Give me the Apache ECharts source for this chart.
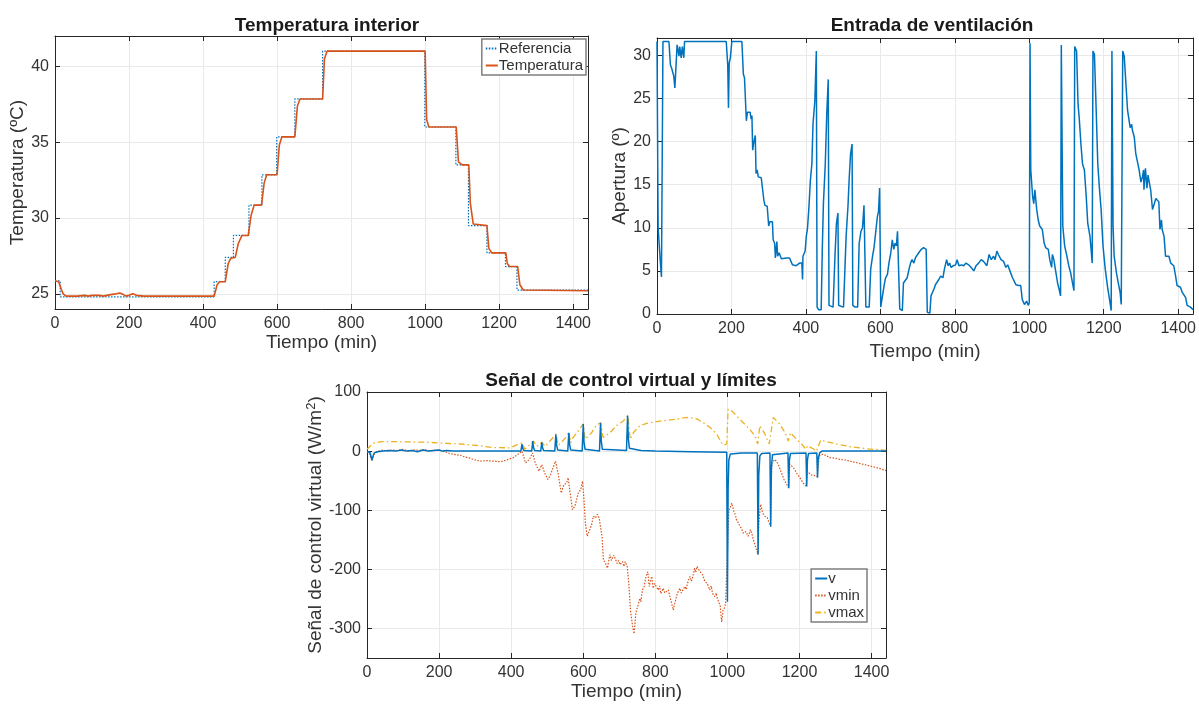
<!DOCTYPE html>
<html lang="es">
<head>
<meta charset="utf-8" />
<title>Temperatura, ventilación y señal de control</title>
<style>
  html, body { margin: 0; padding: 0; background: #fff; }
  #main { width: 1199px; height: 705px; }
</style>
</head>
<body>
<div id="main"></div>
<script src="https://cdn.jsdelivr.net/npm/echarts@6.0.0/dist/echarts.min.js"></script>
<script>
// --- Temperatura interior ---
var refTime = [0, 14, 430, 460, 482, 524, 559, 599, 648, 723, 999, 1083, 1117, 1167, 1217, 1248, 1440];
var refTemp = [25.85, 24.8, 25.8, 27.4, 28.85, 30.85, 32.85, 35.35, 37.85, 41.0, 36.0, 33.5, 29.5, 27.7, 26.8, 25.25, 25.25];

var tempTime = [0, 10, 14, 17, 22, 30, 60, 80, 90, 100, 120, 130, 150, 165, 175, 185, 192, 200, 210, 220, 240, 430, 438, 445, 460, 468, 475, 487, 495, 505, 522, 530, 538, 558, 565, 572, 600, 606, 613, 648, 655, 662, 723, 728, 735, 1000, 1004, 1010, 1084, 1090, 1100, 1118, 1122, 1130, 1135, 1167, 1172, 1180, 1218, 1222, 1228, 1250, 1256, 1265, 1440];
var tempValue = [25.85, 25.8, 25.75, 25.3, 25.0, 24.85, 24.85, 24.9, 24.85, 24.9, 24.9, 24.85, 24.95, 25.0, 25.05, 24.95, 24.85, 24.9, 25.0, 24.9, 24.85, 24.85, 25.6, 25.8, 25.8, 27.0, 27.35, 27.4, 28.3, 28.85, 28.85, 30.2, 30.85, 30.85, 32.3, 32.85, 32.85, 34.8, 35.35, 35.35, 37.4, 37.85, 37.85, 40.5, 41.0, 41.0, 36.5, 36.0, 36.0, 33.7, 33.5, 33.5, 31.0, 29.6, 29.5, 29.5, 28.0, 27.7, 27.7, 27.0, 26.8, 26.8, 25.6, 25.25, 25.2];

// --- Entrada de ventilación ---
var ventTime = [0, 1, 3, 9, 12, 14, 16, 32, 36, 40, 45, 48, 52, 54, 59, 61, 65, 68, 72, 74, 186, 190, 192, 194, 197, 201, 228, 232, 235, 238, 240, 243, 247, 250, 253, 255, 257, 260, 264, 266, 269, 272, 276, 280, 285, 287, 290, 296, 300, 303, 310, 312, 316, 318, 322, 324, 328, 334, 348, 356, 360, 364, 374, 383, 389, 391, 392, 398, 401, 404, 408, 412, 416, 419, 424, 428, 430, 434, 441, 444, 447, 452, 456, 460, 462, 467, 473, 478, 482, 486, 488, 494, 501, 508, 513, 516, 520, 524, 526, 532, 539, 543, 548, 552, 556, 559, 561, 566, 570, 574, 579, 583, 588, 592, 595, 598, 601, 605, 610, 614, 619, 623, 628, 632, 636, 639, 643, 646, 648, 652, 659, 662, 667, 672, 676, 681, 685, 690, 694, 703, 710, 716, 723, 726, 733, 736, 740, 744, 748, 753, 757, 762, 768, 772, 775, 778, 782, 786, 790, 796, 802, 806, 811, 818, 824, 830, 837, 844, 851, 857, 864, 871, 877, 886, 892, 898, 904, 908, 913, 917, 924, 931, 937, 942, 948, 955, 960, 964, 971, 977, 981, 987, 993, 997, 1000, 1002, 1004, 1009, 1012, 1015, 1020, 1024, 1028, 1035, 1040, 1044, 1051, 1055, 1060, 1062, 1066, 1070, 1076, 1080, 1084, 1086, 1090, 1095, 1101, 1106, 1111, 1116, 1120, 1122, 1127, 1131, 1134, 1139, 1143, 1148, 1153, 1157, 1163, 1166, 1169, 1171, 1175, 1180, 1184, 1188, 1193, 1198, 1204, 1211, 1217, 1220, 1222, 1225, 1228, 1234, 1239, 1244, 1247, 1251, 1255, 1260, 1264, 1268, 1271, 1275, 1277, 1282, 1286, 1291, 1295, 1300, 1304, 1307, 1308, 1312, 1316, 1319, 1323, 1326, 1331, 1335, 1340, 1344, 1348, 1351, 1355, 1357, 1362, 1366, 1375, 1380, 1388, 1393, 1397, 1406, 1411, 1415, 1420, 1424, 1433, 1440];
var ventValue = [31.6, 31.6, 10, 6, 4.3, 4.4, 31.6, 31.6, 28.9, 28.4, 27.6, 26.2, 26.0, 31.2, 29.9, 31.0, 29.7, 31.0, 29.7, 31.6, 31.6, 28.9, 23.9, 29.1, 29.7, 31.6, 31.6, 27.8, 27.4, 27.6, 22.4, 23.4, 23.2, 23.4, 22.6, 23.0, 19.0, 19.9, 20.7, 16.3, 16.7, 15.9, 16.1, 15.8, 15.9, 13.2, 12.6, 12.5, 10.2, 10.7, 10.7, 8.6, 8.2, 6.5, 8.4, 6.7, 7.1, 6.4, 6.5, 6.5, 6.3, 5.7, 5.6, 5.9, 5.9, 4.0, 6.7, 7.3, 9.0, 9.8, 12.3, 15.5, 17.4, 22.0, 24.7, 30.5, 0.8, 0.5, 0.5, 7.5, 12.8, 17.4, 23.2, 27.2, 1.0, 0.8, 0.8, 6.7, 10.5, 11.7, 1.0, 0.9, 0.8, 9.0, 12.5, 15.5, 18.6, 19.7, 1.0, 0.8, 0.8, 8.2, 9.6, 10.0, 12.6, 12.6, 0.8, 0.7, 0.8, 5.2, 6.7, 7.7, 7.9, 11.3, 11.9, 14.6, 0.8, 0.6, 3.3, 4.2, 4.6, 5.9, 7.1, 8.6, 7.5, 8.2, 7.9, 9.6, 9.8, 0.6, 0.4, 3.6, 3.6, 4.2, 5.0, 5.9, 6.3, 5.9, 6.5, 7.1, 7.5, 7.7, 7.5, 0.2, 0.1, 2.1, 2.3, 2.9, 3.4, 3.6, 4.0, 4.4, 4.2, 5.2, 5.4, 6.3, 5.6, 5.9, 5.4, 5.6, 5.7, 6.3, 5.6, 5.7, 5.6, 5.9, 5.7, 5.4, 5.0, 5.6, 5.9, 6.3, 6.1, 5.6, 6.9, 6.3, 6.7, 6.3, 7.3, 6.9, 6.3, 6.1, 5.4, 5.7, 5.0, 4.2, 4.2, 3.4, 3.3, 3.3, 1.7, 1.1, 1.5, 1.0, 1.3, 31.4, 16.7, 13.6, 12.8, 14.4, 12.1, 10.9, 10.2, 9.8, 8.2, 7.7, 7.5, 6.3, 5.4, 6.9, 6.3, 5.2, 3.6, 2.9, 2.1, 31.2, 10.2, 7.9, 6.7, 5.6, 4.8, 3.6, 2.7, 31.0, 30.5, 24.3, 22.8, 19.5, 17.4, 16.7, 13.6, 10.5, 9.0, 7.5, 5.9, 30.5, 30.1, 23.2, 17.4, 14.8, 12.1, 7.9, 5.2, 2.9, 1.3, 0.4, 30.5, 10.2, 6.7, 4.8, 3.6, 2.5, 1.1, 30.5, 29.9, 29.7, 23.6, 23.4, 21.6, 22.0, 21.3, 20.5, 18.6, 18.4, 16.7, 15.3, 15.9, 16.7, 14.4, 16.9, 14.6, 16.1, 15.1, 14.4, 12.1, 11.9, 13.4, 13.6, 13.0, 9.8, 10.9, 9.8, 9.0, 6.7, 6.7, 5.9, 5.6, 4.4, 3.3, 3.1, 2.5, 2.3, 1.9, 1.0, 0.8, 0.5];

// --- Señal de control virtual y límites ---
var vTime = [0, 8, 11, 14, 17, 20, 30, 45, 60, 80, 95, 110, 125, 140, 155, 170, 185, 200, 210, 220, 240, 427, 430, 432, 435, 440, 457, 460, 462, 465, 470, 482, 485, 487, 490, 495, 521, 524, 526, 529, 534, 557, 560, 562, 565, 570, 597, 600, 602, 605, 610, 645, 648, 650, 653, 658, 720, 723, 725, 728, 733, 760, 800, 900, 998, 999, 1000, 1002, 1004, 1008, 1040, 1083, 1085, 1087, 1090, 1095, 1118, 1120, 1122, 1125, 1130, 1168, 1170, 1172, 1175, 1218, 1220, 1222, 1225, 1248, 1250, 1252, 1256, 1262, 1440];
var vValue = [-1, -2, -5, -15, -8, -3, -1, 0, 1, 0, 2, 0, 1, -1, 2, 0, 1, 2, 0, 1, 0, 0, 12, 5, 1, 0, 0, 17, 6, 1, 0, 0, 15, 6, 1, 0, 0, 28, 10, 2, 0, 0, 31, 12, 2, 0, 0, 46, 16, 3, 0, 0, 48, 17, 3, 0, 1, 60, 22, 5, 2, 1, 0, -1, -2, -3, -255, -60, -15, -5, -3, -3, -175, -40, -8, -4, -3, -128, -30, -6, -3, -3, -63, -15, -4, -3, -60, -15, -4, -3, -45, -12, -3, 0, 0];

var vminTime = [0, 6, 10, 14, 18, 22, 30, 45, 55, 70, 85, 100, 115, 130, 145, 160, 175, 190, 203, 215, 230, 245, 259, 272, 286, 300, 314, 332, 351, 370, 388, 406, 420, 430, 440, 451, 459, 467, 477, 485, 493, 502, 509, 523, 530, 539, 546, 554, 558, 563, 570, 577, 586, 593, 598, 602, 606, 611, 618, 623, 628, 634, 639, 644, 648, 652, 656, 662, 667, 674, 678, 681, 685, 688, 694, 698, 702, 709, 713, 716, 722, 727, 731, 737, 741, 746, 751, 757, 760, 764, 769, 774, 779, 783, 787, 790, 794, 798, 802, 808, 812, 815, 822, 826, 829, 836, 840, 843, 850, 854, 858, 861, 868, 872, 876, 882, 886, 889, 896, 900, 903, 909, 912, 916, 920, 924, 931, 934, 938, 944, 948, 951, 955, 959, 965, 969, 972, 977, 980, 984, 988, 992, 995, 1000, 1004, 1008, 1012, 1018, 1022, 1025, 1030, 1035, 1040, 1044, 1051, 1058, 1064, 1068, 1072, 1079, 1085, 1087, 1092, 1098, 1104, 1111, 1116, 1120, 1123, 1132, 1141, 1148, 1157, 1164, 1170, 1173, 1183, 1192, 1201, 1210, 1218, 1222, 1231, 1240, 1249, 1255, 1266, 1284, 1300, 1312, 1326, 1340, 1355, 1368, 1382, 1395, 1420, 1440];
var vminValue = [-1, -3, -11, -17, -8, -3, 0, 2, 0, 2, 1, 3, 0, 2, 1, 3, 0, 2, 1, -1, -4, -6, -7, -10, -12, -15, -17, -16, -17, -18, -15, -11, -5, 0, -20, -14, -3, -20, -34, -23, -37, -48, -40, -17, -37, -71, -57, -54, -45, -68, -99, -93, -71, -65, -51, -82, -122, -144, -133, -125, -110, -113, -107, -113, -113, -144, -184, -190, -198, -175, -185, -181, -176, -173, -190, -185, -192, -187, -195, -187, -195, -229, -269, -297, -309, -274, -263, -249, -255, -235, -229, -212, -204, -229, -218, -212, -232, -224, -221, -235, -228, -241, -232, -240, -241, -235, -245, -252, -269, -257, -248, -241, -232, -240, -238, -229, -234, -224, -212, -220, -215, -198, -205, -195, -200, -204, -209, -215, -221, -224, -230, -235, -228, -241, -246, -240, -249, -257, -262, -289, -269, -265, -257, -255, -100, -95, -88, -102, -108, -116, -121, -127, -132, -139, -136, -144, -133, -140, -150, -164, -175, -122, -90, -105, -110, -113, -122, -127, -20, -14, -22, -34, -48, -56, -62, -22, -28, -37, -45, -54, -59, -34, -40, -41, -43, -8, -5, -11, -12, -14, -15, -17, -19, -21, -23, -25, -29, -33];

var vmaxTime = [0, 5, 10, 15, 20, 40, 74, 120, 166, 210, 259, 305, 351, 397, 417, 430, 438, 448, 462, 471, 485, 494, 512, 525, 530, 540, 550, 560, 565, 572, 586, 600, 605, 610, 623, 635, 648, 655, 674, 692, 711, 724, 730, 739, 757, 776, 803, 831, 859, 887, 914, 933, 952, 970, 984, 990, 998, 1002, 1012, 1025, 1044, 1062, 1076, 1084, 1090, 1104, 1116, 1120, 1127, 1145, 1160, 1169, 1175, 1192, 1206, 1218, 1222, 1238, 1247, 1259, 1275, 1303, 1340, 1386, 1440];
var vmaxValue = [3, 4, 9, 13, 15, 16, 16, 15.5, 15, 13.5, 12, 9.5, 6, 5.5, 11, 14, 3, 8.5, 17, 8, 15, 8, 20, 29, 10, 15, 22, 32, 14, 23, 34, 46, 20, 17, 31, 43, 48, 23, 31, 43, 51, 60, 20, 31, 43, 47, 50, 52, 54, 57, 55, 48, 40, 29, 14, 10, 12, 71, 68, 60, 48, 37, 26, 12, 43, 29, 12, 12, 57, 46, 31, 17, 31, 20, 12, 3, 9, 4, 0, 19, 16, 12, 7.6, 4, 1.4];

var xTicks = [0, 200, 400, 600, 800, 1000, 1200, 1400];

function pairs(t, v) {
  return t.map(function (x, i) { return [x, v[i]]; });
}

var FONT = '"Liberation Sans", Arial, Helvetica, sans-serif';
var AX = '#262626';
var TXT = '#333333';
var GRID = '#e9e9e9';
var BLUE = '#0072BD', RED = '#D95319', YEL = '#EDB120';

// one grid = bottom+top x axes and left+right y axes, so the box has ticks on all sides
function xPair(gi, name, gap) {
  var base = {
    type: 'value', gridIndex: gi, min: 0, max: 1440, interval: 200,
    axisLine: { show: true, onZero: false, lineStyle: { color: AX, width: 1 } },
    axisTick: { show: true, inside: true, length: 5, lineStyle: { color: AX } }
  };
  return [
    Object.assign({}, base, {
      position: 'bottom', name: name, nameLocation: 'middle', nameGap: gap,
      nameTextStyle: { fontFamily: FONT, fontSize: 19, color: TXT },
      axisLabel: {
        show: true, margin: 7, fontFamily: FONT, fontSize: 16, color: TXT,
        showMaxLabel: false,
        formatter: function (v) { return xTicks.indexOf(v) >= 0 ? String(v) : ''; }
      },
      splitLine: { show: true, lineStyle: { color: GRID, width: 1 } }
    }),
    Object.assign({}, base, {
      position: 'top', axisLabel: { show: false }, splitLine: { show: false }
    })
  ];
}

function yPair(gi, opt, name, gap) {
  var base = {
    type: 'value', gridIndex: gi, min: opt.min, max: opt.max,
    interval: opt.interval, splitNumber: opt.splitNumber,
    axisLine: { show: true, onZero: false, lineStyle: { color: AX, width: 1 } },
    axisTick: { show: true, inside: true, length: 5, lineStyle: { color: AX } }
  };
  return [
    Object.assign({}, base, {
      position: 'left', name: name, nameLocation: 'middle', nameGap: gap,
      nameTextStyle: {
        fontFamily: FONT, fontSize: 19, color: TXT,
        rich: {
          n: { fontFamily: FONT, fontSize: 19, color: TXT },
          s: { fontFamily: FONT, fontSize: 13, color: TXT, verticalAlign: 'top', padding: [0, 0, 9, 0] }
        }
      },
      axisLabel: {
        show: true, margin: 6, fontFamily: FONT, fontSize: 16, color: TXT,
        showMinLabel: opt.showMin, showMaxLabel: opt.showMax
      },
      splitLine: { show: true, lineStyle: { color: GRID, width: 1 } }
    }),
    Object.assign({}, base, {
      position: 'right', axisLabel: { show: false }, splitLine: { show: false }
    })
  ];
}

var xAxes = [].concat(
  xPair(0, 'Tiempo (min)', 24),
  xPair(1, 'Tiempo (min)', 28),
  xPair(2, 'Tiempo (min)', 24)
);
var yAxes = [].concat(
  yPair(0, { min: 24, max: 42, splitNumber: 4, showMin: false, showMax: false }, 'Temperatura (ºC)', 23),
  yPair(1, { min: 0, max: 32, interval: 5, showMin: true, showMax: false }, 'Apertura (º)', 22),
  yPair(2, { min: -350, max: 100, splitNumber: 5, showMin: false, showMax: true }, '{n|Señal de control virtual (W/m}{s|2}{n|)}', 38)
);

function line(name, xi, data, color, width, type) {
  return {
    name: name, type: 'line', xAxisIndex: xi, yAxisIndex: xi,
    data: data, symbol: 'none', showSymbol: false, animation: false,
    lineStyle: { color: color, width: width, type: type || 'solid' },
    itemStyle: { color: color }
  };
}

var refSeries = line('Referencia', 0, pairs(refTime, refTemp), BLUE, 1.2, [1.5, 1.5]);
refSeries.step = 'end';

function legendBox(names, right, top, pad, gap) {
  return {
    data: names, orient: 'vertical',
    right: right, top: top, itemWidth: 12, itemHeight: 2, itemGap: gap,
    padding: pad, backgroundColor: '#fff',
    borderColor: '#7f7f7f', borderWidth: 1.5, borderRadius: 0,
    itemStyle: { opacity: 0, borderWidth: 0 },
    textStyle: { fontFamily: FONT, fontSize: 15, color: TXT, padding: [0, 0, 0, -4] }
  };
}

var option = {
  backgroundColor: '#ffffff',
  animation: false,
  textStyle: { fontFamily: FONT },
  title: [
    { text: 'Temperatura interior', left: 322, top: 11, textAlign: 'center',
      textStyle: { fontFamily: FONT, fontSize: 19, fontWeight: 'bold', color: '#1a1a1a' } },
    { text: 'Entrada de ventilación', left: 927, top: 11, textAlign: 'center',
      textStyle: { fontFamily: FONT, fontSize: 19, fontWeight: 'bold', color: '#1a1a1a' } },
    { text: 'Señal de control virtual y límites', left: 626, top: 366, textAlign: 'center',
      textStyle: { fontFamily: FONT, fontSize: 19, fontWeight: 'bold', color: '#1a1a1a' } }
  ],
  grid: [
    { left: 55, top: 36, width: 533, height: 273 },
    { left: 657, top: 38, width: 540, height: 276 },
    { left: 367, top: 392, width: 519, height: 266 }
  ],
  xAxis: xAxes,
  yAxis: yAxes,
  legend: [
    legendBox(['Referencia', 'Temperatura'], 613, 39, [2, 3, 2, 3], 2),
    legendBox(['v', 'vmin', 'vmax'], 332, 569, [2, 3, 2, 3], 2)
  ],
  series: [
    refSeries,
    line('Temperatura', 0, pairs(tempTime, tempValue), RED, 1.6),
    line('Apertura', 2, pairs(ventTime, ventValue), BLUE, 1.5),
    line('vmin', 4, pairs(vminTime, vminValue), RED, 1.2, [1.5, 1.5]),
    line('vmax', 4, pairs(vmaxTime, vmaxValue), YEL, 1.3, [6, 3, 1.5, 3]),
    line('v', 4, pairs(vTime, vValue), BLUE, 1.5)
  ]
};

var chart = echarts.init(document.getElementById('main'), null, { renderer: 'canvas' });
chart.setOption(option);
</script>
</body>
</html>
